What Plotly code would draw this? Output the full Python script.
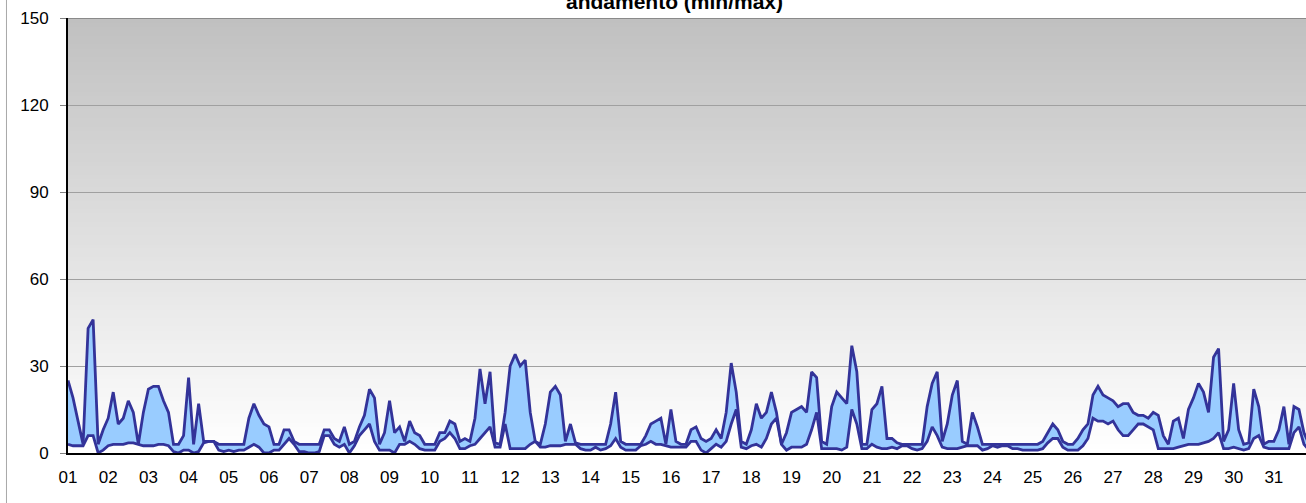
import plotly.graph_objects as go

# ---- data: 3-hourly readings (8 per day), one row per day ----
tick_labels = ["%02d" % d for d in range(1, 32)]
days = list(range(1, 32))
slots_per_day = 8

max_vals = [
    25, 19, 11, 3, 43, 46, 3, 8,        # 01
    12, 21, 10, 12, 18, 14, 3, 14,      # 02
    22, 23, 23, 18, 14, 3, 3, 6,        # 03
    26, 3, 17, 4, 4, 4, 3, 3,           # 04
    3, 3, 3, 3, 12, 17, 13, 10,         # 05
    9, 3, 3, 8, 8, 4, 3, 3,             # 06
    3, 3, 3, 8, 8, 5, 4, 9,             # 07
    3, 4, 9, 13, 22, 19, 3, 7,          # 08
    18, 7, 9, 4, 11, 7, 6, 3,           # 09
    3, 3, 7, 7, 11, 10, 4, 5,           # 10
    4, 12, 29, 17, 28, 3.5, 3, 14,      # 11
    30, 34, 30, 32, 14, 4, 3, 10,       # 12
    21, 23, 20, 4, 10, 3.5, 3, 3,       # 13
    3, 3, 3, 3, 10, 21, 4, 3,           # 14
    3, 3, 3, 6, 10, 11, 12, 3,          # 15
    15, 4, 3, 3, 8, 9, 5, 4,            # 16
    5, 8, 5, 14, 31, 21, 4, 3,          # 17
    8, 17, 12, 14, 21, 14, 3, 7,        # 18
    14, 15, 16, 14, 28, 26, 4, 3,       # 19
    16, 21, 19, 17, 37, 28, 3, 3,       # 20
    15, 17, 23, 5, 5, 3.5, 3, 3,        # 21
    3, 3, 3, 16, 24, 28, 4, 10,         # 22
    20, 25, 4, 3, 14, 9, 3, 3,          # 23
    3, 3, 3, 3, 3, 3, 3, 3,             # 24
    3, 3, 4, 7, 10, 8, 4, 3,            # 25
    3, 5, 8, 10, 20, 23, 20, 19,        # 26
    18, 16, 17, 17, 14, 13, 13, 12,     # 27
    14, 13, 6, 3, 11, 12, 5, 15,        # 28
    19, 24, 21, 14, 33, 36, 4, 8,       # 29
    24, 8, 3, 3.5, 22, 16, 3, 4,        # 30
    4, 8, 16, 3, 16, 15, 7, 3,          # 31
]

min_vals = [
    3, 2.5, 2.5, 2.5, 6, 6, 0, 1,       # 01
    2.5, 3, 3, 3, 3.5, 3.5, 3, 2.5,     # 02
    2.5, 2.5, 3, 3, 2.5, 0.5, 0, 1,     # 03
    1, 0, 0.5, 3.5, 4, 4, 1, 0.5,       # 04
    1, 0.5, 1, 1, 2, 3, 2, 0,           # 05
    0, 1, 1, 3, 5, 3, 0.5, 0.5,         # 06
    0, 0, 0.5, 6, 6, 3, 2, 3,           # 07
    0, 2.5, 6, 8, 10, 4, 1, 1,          # 08
    1, 0, 3, 3, 4, 3, 1.5, 1,           # 09
    1, 1, 4, 5, 7, 5, 1.5, 1.5,         # 10
    2.5, 3, 5, 7, 9, 2, 2, 10,          # 11
    1.5, 1.5, 1.5, 1.5, 3, 4, 2, 2,     # 12
    2.5, 2.5, 2.5, 3, 3, 3, 1.5, 1,     # 13
    1, 2, 1, 1.5, 2.5, 5, 2, 1,         # 14
    1, 1, 2.5, 3, 4, 3, 3, 2.5,         # 15
    2, 2, 2, 2, 4, 4, 1, 0,             # 16
    1.5, 3, 2, 4, 10, 15, 2, 1.5,       # 17
    2.5, 3, 2, 5, 10, 12, 3, 1,         # 18
    2, 2, 2, 3, 8, 14, 1.5, 1.5,        # 19
    1.5, 1.5, 1, 2, 15, 10, 1.5, 1.5,   # 20
    3, 2, 1.5, 1.5, 2, 1.5, 2.5, 2.5,   # 21
    1.5, 1, 1.5, 4, 9, 6, 2, 1.5,       # 22
    1.5, 1.5, 2, 2.5, 2.5, 2.5, 1, 1.5, # 23
    2.5, 2, 2.5, 2.5, 1.5, 1.5, 1, 1,   # 24
    1, 1, 1.5, 3.5, 5, 5, 2, 1,         # 25
    1, 1, 2.5, 5, 12, 11, 11, 10,       # 26
    11, 8, 6, 6, 8, 10, 10, 9,          # 27
    8, 1.5, 1.5, 1.5, 1.5, 2, 2.5, 3,   # 28
    3, 3, 3.5, 4, 5, 7, 1.5, 1.5,       # 29
    2, 1.5, 1, 1.5, 5, 6, 2, 1.5,       # 30
    1.5, 1.5, 1.5, 1.5, 7, 9, 3, 1,     # 31
]

y_ticks = [0, 30, 60, 90, 120, 150]

# time axis in days (reading k of day d -> d + k/8)
x_time = [d + k / slots_per_day for d in days for k in range(slots_per_day)]

LINE = "#333399"
FILL = "#99CCFF"
FONT = "Arial, 'Liberation Sans', sans-serif"

fig = go.Figure()
# fill between min and max
fig.add_trace(go.Scatter(x=x_time, y=min_vals, mode="lines", line=dict(width=0, color=LINE),
                         showlegend=False, hoverinfo="skip"))
fig.add_trace(go.Scatter(x=x_time, y=max_vals, mode="lines", line=dict(width=0, color=LINE),
                         fill="tonexty", fillcolor=FILL, showlegend=False, hoverinfo="skip"))
# lines on top
fig.add_trace(go.Scatter(x=x_time, y=min_vals, mode="lines", name="min",
                         line=dict(width=2.8, color=LINE), showlegend=False))
fig.add_trace(go.Scatter(x=x_time, y=max_vals, mode="lines", name="max",
                         line=dict(width=2.8, color=LINE), showlegend=False))

# vertical gradient background (grey at top -> white at bottom), below the grid
shapes = []
nb = 100
step = 150 / nb
for i in range(nb):
    y0 = step * i
    y1 = min(150, step * (i + 1) + step)  # overlap to avoid seams
    t = (i + 0.5) / nb
    c = int(round(255 - t * (255 - 192)))
    shapes.append(dict(type="rect", xref="paper", yref="y", x0=0, x1=1, y0=y0, y1=y1,
                       fillcolor="rgb(%d,%d,%d)" % (c, c, c), line=dict(width=0), layer="below"))
# top border of plot area
shapes.append(dict(type="line", xref="paper", yref="y", x0=0, x1=1, y0=150, y1=150,
                   line=dict(color="#8a8a8a", width=2), layer="above"))
# outer chart-area border on the left
shapes.append(dict(type="line", xref="paper", yref="paper", x0=-0.0497, x1=-0.0497, y0=-0.2, y1=1.2,
                   line=dict(color="#a8a8a8", width=1)))

fig.update_layout(
    width=1306, height=503,
    margin=dict(l=68, r=0, t=18, b=50, pad=0),
    paper_bgcolor="white",
    plot_bgcolor="rgba(0,0,0,0)",
    shapes=shapes,
    font=dict(family=FONT, size=17, color="black"),
    annotations=[dict(text="<b>andamento (min/max)</b>", xref="paper", yref="paper",
                      x=0.490, y=1.0377, xanchor="center", yanchor="middle", showarrow=False,
                      font=dict(family=FONT, size=21, color="black"))],
)
fig.update_xaxes(range=[1, 31.8], tickvals=days, ticktext=tick_labels, showgrid=False,
                 showline=True, linecolor="black", linewidth=2, ticks="", zeroline=False,
                 ticklabelstandoff=8, tickfont=dict(family=FONT, size=17, color="black"))
fig.update_yaxes(range=[0, 150], tickvals=y_ticks, showgrid=True, gridcolor="#a0a0a0", gridwidth=1,
                 showline=True, linecolor="black", linewidth=2, ticks="outside", ticklen=6,
                 tickcolor="#808080", zeroline=False, ticklabelstandoff=8,
                 tickfont=dict(family=FONT, size=17, color="black"))

fig.write_html("out.html", config={"displayModeBar": False},
               post_script="document.body.style.margin='0';document.body.style.overflow='hidden';")
